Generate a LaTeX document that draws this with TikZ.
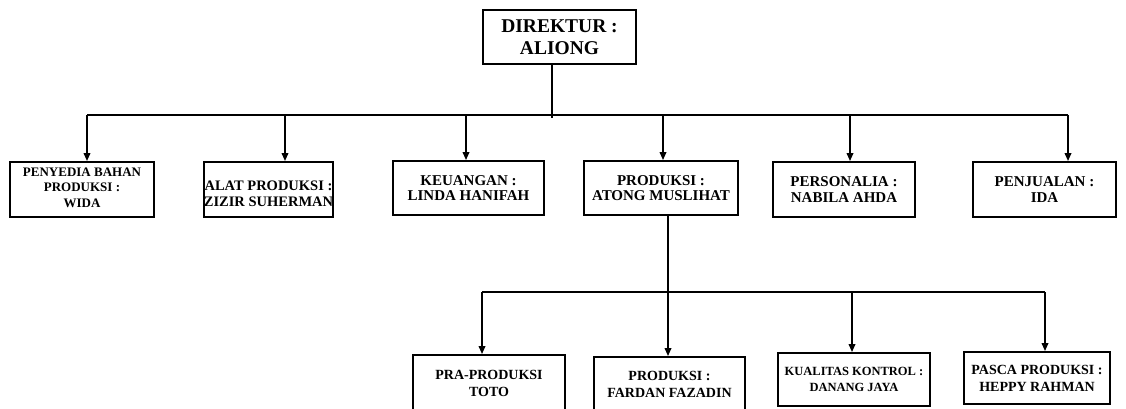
\documentclass[tikz,border=0pt]{standalone}
\usepackage{fontspec}
\setmainfont{Liberation Serif}
\usetikzlibrary{arrows.meta}
\tikzset{
  box/.style={draw, line width=1.8pt, inner sep=0pt, align=center, font=\bfseries, anchor=center},
  conn/.style={line width=1.8pt},
  arr/.style={conn, -{Triangle[length=8pt,width=6.5pt]}},
}
\begin{document}
\begin{tikzpicture}[x=1pt,y=-1pt]
\useasboundingbox (0,0) rectangle (1126,409);
\clip (0,0) rectangle (1126,409);
% top
\node[box, minimum width=153pt, minimum height=54pt, font=\bfseries\fontsize{19.5}{22}\selectfont] (dir) at (559.5,37) {DIREKTUR :\\ALIONG};
% level 1
\node[box, minimum width=144pt, minimum height=55pt, font=\bfseries\fontsize{13}{15.5}\selectfont] (b1) at (82,189.5) {PENYEDIA BAHAN\\PRODUKSI :\\WIDA\rule[-4pt]{0pt}{0pt}};
\node[box, minimum width=129pt, minimum height=55pt, font=\bfseries\fontsize{14.5}{15.5}\selectfont] (b2) at (268.5,189.5) {\rule{0pt}{18pt}ALAT PRODUKSI :\\ZIZIR SUHERMAN};
\node[box, minimum width=151pt, minimum height=54pt, font=\bfseries\fontsize{15}{15.5}\selectfont] (b3) at (468.5,188) {KEUANGAN :\\LINDA HANIFAH};
\node[box, minimum width=154pt, minimum height=54pt, font=\bfseries\fontsize{15}{15.5}\selectfont] (b4) at (661,188) {PRODUKSI :\\ATONG MUSLIHAT};
\node[box, minimum width=142pt, minimum height=55pt, font=\bfseries\fontsize{15}{15.5}\selectfont] (b5) at (844,189.5) {PERSONALIA :\\NABILA AHDA};
\node[box, minimum width=143pt, minimum height=55pt, font=\bfseries\fontsize{15}{15.5}\selectfont] (b6) at (1044.5,189.5) {PENJUALAN :\\IDA};
% level 2
\node[box, minimum width=152pt, minimum height=57pt, font=\bfseries\fontsize{14}{17}\selectfont] (c1) at (489,383.5) {PRA-PRODUKSI\\TOTO};
\node[box, minimum width=151pt, minimum height=55pt, font=\bfseries\fontsize{14}{17}\selectfont] (c2) at (669.5,384.5) {PRODUKSI :\\FARDAN FAZADIN};
\node[box, minimum width=152pt, minimum height=53pt, font=\bfseries\fontsize{12.5}{15.5}\selectfont] (c3) at (854,379.5) {KUALITAS KONTROL :\\DANANG JAYA};
\node[box, minimum width=146pt, minimum height=52pt, font=\bfseries\fontsize{14}{17}\selectfont] (c4) at (1037,378) {PASCA PRODUKSI :\\HEPPY RAHMAN};
% bars
\coordinate (t1) at (87,115);
\coordinate (t2) at (285,115);
\coordinate (t3) at (466,115);
\coordinate (t4) at (663,115);
\coordinate (t5) at (850,115);
\coordinate (t6) at (1068,115);
\coordinate (tj) at (552,118);
\coordinate (u1) at (482,292);
\coordinate (u2) at (668,292);
\coordinate (u3) at (852,292);
\coordinate (u4) at (1045,292);
\draw[conn] (dir.south -| tj) -- (tj);
\draw[conn] (t1) -- (t6);
\draw[conn] (u1) -- (u4);
\foreach \i in {1,...,6} \draw[arr] (t\i) -- (t\i |- b\i.north);
\draw[conn] (b4.south -| u2) -- (u2);
\foreach \i in {1,...,4} \draw[arr] (u\i) -- (u\i |- c\i.north);
\end{tikzpicture}
\end{document}
